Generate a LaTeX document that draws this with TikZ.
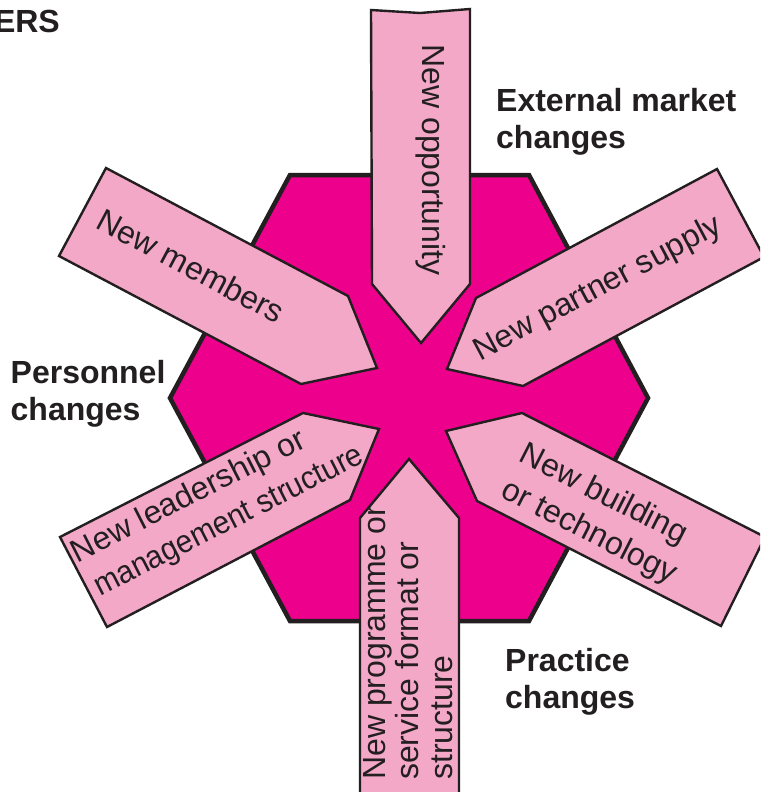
\documentclass[tikz,border=0pt]{standalone}
\usepackage{fontspec}
\setmainfont{Liberation Sans}
\definecolor{hexfill}{HTML}{EC008C}
\definecolor{pinkfill}{HTML}{F4A8C8}
\definecolor{inkc}{HTML}{231F20}
\begin{document}
\begin{tikzpicture}[x=1pt,y=-1pt,
  hexshape/.style={fill=hexfill,draw=inkc,line width=4.5pt,line join=miter},
  arrowshape/.style={fill=pinkfill,draw=inkc,line width=2.4pt,line join=miter},
  intext/.style={font=\fontsize{32}{33.5}\selectfont,text=inkc,inner sep=0pt,align=left},
  slanttext/.style={font=\fontsize{32}{40}\selectfont,text=inkc,inner sep=0pt,align=left},
  lbl/.style={font=\fontsize{32}{37}\selectfont\bfseries,text=inkc,inner sep=0pt,align=left}]
\clip (0,0) rectangle (760,792);
\fill[white] (0,0) rectangle (760,792);
% hexagon
\draw[hexshape] (290,175) -- (529,175) -- (648,398) -- (529,621) -- (290,621) -- (170,398) -- cycle;
% arrows
\draw[arrowshape] (371,10) -- (420,13) -- (470,9) -- (470,284) -- (421,343) -- (372,284) -- cycle;
\draw[arrowshape] (360,795) -- (360,518) -- (409,459) -- (459,518) -- (459,795) -- cycle;
\draw[arrowshape] (106,168) -- (348,296) -- (377,368) -- (301,384) -- (59,256) -- cycle;
\draw[arrowshape] (717,169) -- (476,298) -- (447,369) -- (523,386) -- (764,257) -- cycle;
\draw[arrowshape] (60,537) -- (303,413) -- (379,429) -- (350,500) -- (107,627) -- cycle;
\draw[arrowshape] (765,537) -- (522,413) -- (446,431) -- (477,501) -- (721,626) -- cycle;
% arrow texts
\node[intext,rotate=-90] (opp) at (431,160) {New opportunity};
\node[intext,rotate=-28] (members) at (191,266) {New members};
\node[intext,rotate=28] (partner) at (598,289) {New partner supply};
\node[slanttext,rotate=27] (leader) at (218,505) {New leadership or\\\hspace*{5pt}{\addfontfeature{FakeStretch=0.93}management structure}};
\node[slanttext,rotate=-27] (building) at (598,515) {New building\\or technology};
\node[intext,rotate=90,anchor=north west] (programme) at (363,780) {New programme or\\service format or\\structure};
% labels
\node[lbl,anchor=north east] (ers) at (60,10) {ERS};
\node[lbl,anchor=north west] (external) at (496,88) {External market\\changes};
\node[lbl,anchor=north west] (personnel) at (10.5,360) {Personnel\\changes};
\node[lbl,anchor=north west] (practice) at (505,648) {Practice\\changes};
\end{tikzpicture}
\end{document}
